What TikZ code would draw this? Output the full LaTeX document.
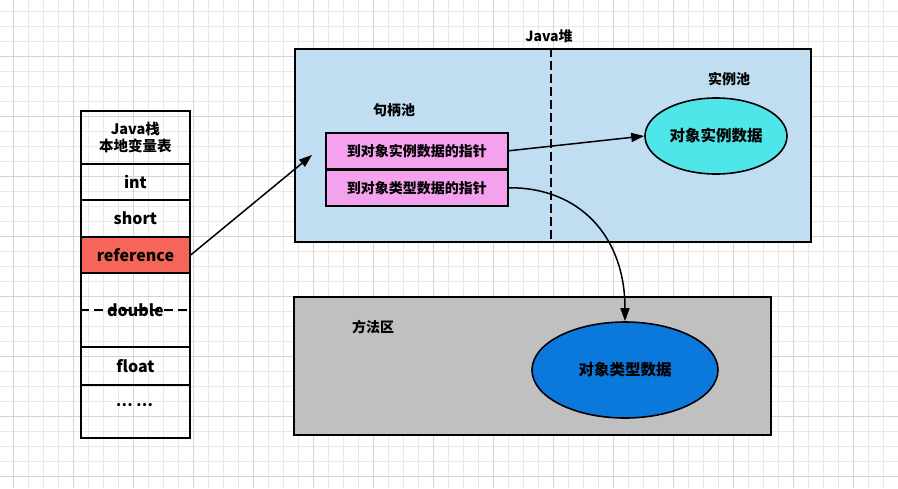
\documentclass[tikz,border=0pt]{standalone}
\usepackage{fontspec}
\setmainfont{Noto Sans CJK SC}
\usetikzlibrary{arrows.meta,shapes.geometric}
\definecolor{gridminor}{HTML}{E8E8E8}
\definecolor{gridmajor}{HTML}{D4D4D4}
\definecolor{heapblue}{HTML}{C0DDF2}
\definecolor{pinkfill}{HTML}{F4A2EE}
\definecolor{cyanfill}{HTML}{4EE6E8}
\definecolor{bluefill}{HTML}{0B79DC}
\definecolor{grayfill}{HTML}{C0C0C0}
\definecolor{reffill}{HTML}{F5655A}
\begin{document}
\begin{tikzpicture}[x=1pt,y=-1pt,
  every node/.style={font=\bfseries\fontsize{14}{17}\selectfont},
  frame/.style={draw=black,line width=1.8pt},
  cell/.style={draw=black,line width=1.8pt,minimum width=109pt,inner sep=0pt,anchor=north west,font=\bfseries\fontsize{16}{18}\selectfont},
  ptr/.style={draw=black,line width=1.6pt,fill=pinkfill,minimum width=182pt,minimum height=36pt,inner sep=0pt,anchor=north west,font=\bfseries\fontsize{14}{16}\selectfont},
  blob/.style={ellipse,draw=black,line width=1.6pt,inner sep=0pt,font=\bfseries\fontsize{15.5}{18}\selectfont},
  conn/.style={draw=black,line width=1.5pt,-{Triangle[length=13pt,width=9pt]}},
  lbl/.style={inner sep=0pt}
]
\useasboundingbox (0,0) rectangle (898,488);
\fill[white] (0,0) rectangle (898,488);
% grid
\foreach \x in {0,...,59} {\draw[gridminor,line width=0.9pt] ({13.3+15*\x},0) -- ({13.3+15*\x},488);}
\foreach \y in {0,...,32} {\draw[gridminor,line width=0.9pt] (0,{11.7+15*\y}) -- (898,{11.7+15*\y});}
\foreach \x in {0,...,14} {\draw[gridmajor,line width=0.9pt] ({13.3+60*\x},0) -- ({13.3+60*\x},488);}
\foreach \y in {0,...,8} {\draw[gridmajor,line width=0.9pt] (0,{-3.3+60*\y}) -- (898,{-3.3+60*\y});}

% Java stack
\node[cell,minimum height=53pt,align=center,font=\bfseries\fontsize{14.5}{17}\selectfont] (hdr) at (80,110) {Java栈\\本地变量表};
\node[cell,minimum height=36pt] (int) at (80,163) {int};
\node[cell,minimum height=37pt] (short) at (80,199) {short};
\node[cell,minimum height=36pt,fill=reffill] (ref) at (80,236) {reference};
\node[cell,minimum height=74pt] (dbl) at (80,272) {};
\draw[black,line width=1.6pt,dash pattern=on 9pt off 5pt] (dbl.west) -- (dbl.east);
\node[lbl,font=\bfseries\fontsize{16}{18}\selectfont] (dbltxt) at (dbl.center) {double};
\node[cell,minimum height=38pt] (flt) at (80,346) {float};
\node[cell,minimum height=53pt] (dots) at (80,384) {};
\node[lbl,font=\bfseries\fontsize{15}{18}\selectfont] (dotstxt) at (134.5,405) {… …};

% Java heap
\node[frame,fill=heapblue,minimum width=516pt,minimum height=193pt,inner sep=0pt,anchor=north west] (heap) at (294,48) {};
\draw[black,line width=1.6pt,dash pattern=on 9pt off 4pt] (551,48) -- (551,241);
\node[lbl] (heaplbl) at (549,36) {Java堆};
\node[lbl] (handlelbl) at (394,110) {句柄池};
\node[lbl] (instlbl) at (729,79) {实例池};
\node[ptr] (p1) at (325,132) {到对象实例数据的指针};
\node[ptr] (p2) at (325,169) {到对象类型数据的指针};
\node[blob,fill=cyanfill,minimum width=142pt,minimum height=76pt] (inst) at (716,136) {对象实例数据};

% method area
\node[frame,fill=grayfill,minimum width=477pt,minimum height=138pt,inner sep=0pt,anchor=north west] (method) at (293,296) {};
\node[lbl] (methodlbl) at (373,327) {方法区};
\node[blob,fill=bluefill,minimum width=186pt,minimum height=96pt] (type) at (625,370) {对象类型数据};

% connectors
\coordinate (refend) at (312,155);
\draw[conn] (ref.east) -- (refend);
\draw[conn] (p1.east) -- (inst.west);
\draw[conn] (p2.east) .. controls (578,187) and (625,235) .. (type.north);
\end{tikzpicture}
\end{document}
